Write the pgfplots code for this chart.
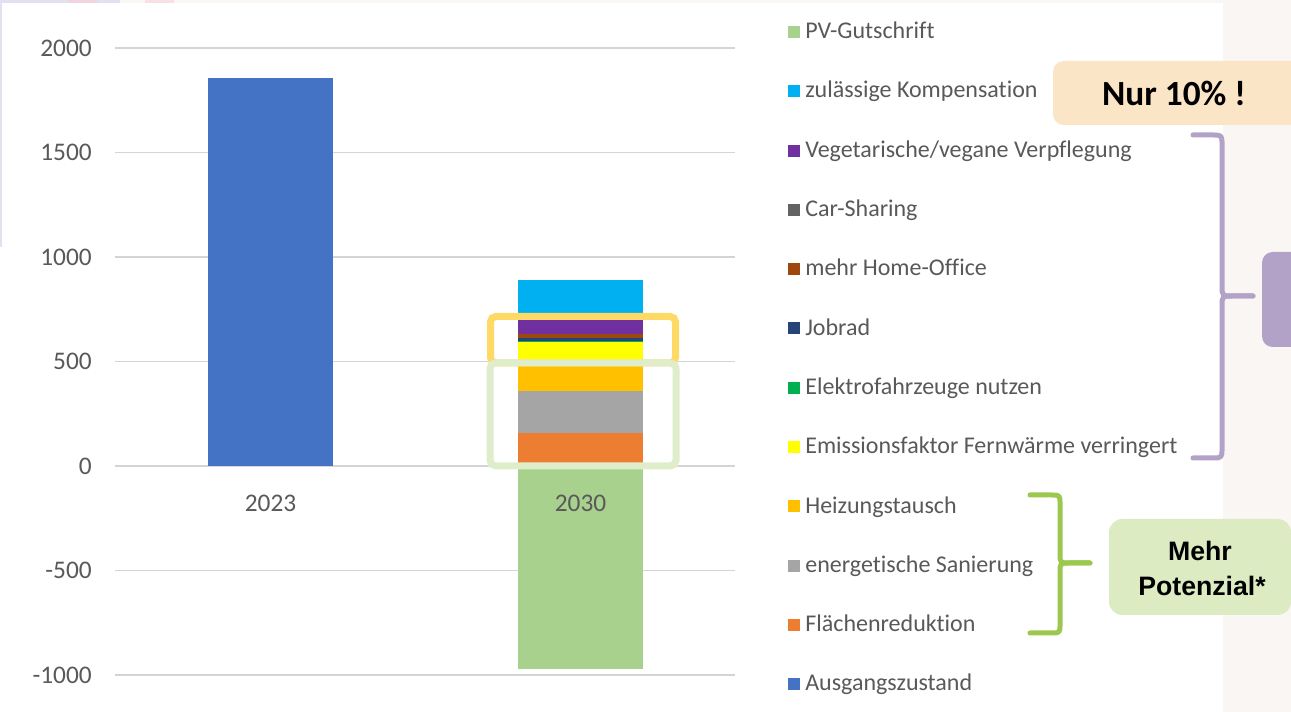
\documentclass[border=0pt]{standalone}
\usepackage{pgfplots}
\pgfplotsset{compat=1.18}
\usepackage{fontspec}
\setmainfont{Carlito}[Ligatures=NoCommon]
\newfontfamily\arialfont{Liberation Sans}
\definecolor{ausgang}{HTML}{4472C4}
\definecolor{flaeche}{HTML}{ED7D31}
\definecolor{sanierung}{HTML}{A5A5A5}
\definecolor{heizung}{HTML}{FFC000}
\definecolor{emission}{HTML}{FFFF00}
\definecolor{elektro}{HTML}{00B050}
\definecolor{jobrad}{HTML}{264478}
\definecolor{homeoffice}{HTML}{9E480E}
\definecolor{carsharing}{HTML}{636363}
\definecolor{veg}{HTML}{7030A0}
\definecolor{komp}{HTML}{00B0F0}
\definecolor{pv}{HTML}{A9D18E}
\definecolor{tickgray}{HTML}{595959}
\definecolor{gridgray}{HTML}{D4D4D4}
\definecolor{goldbox}{HTML}{FFD966}
\definecolor{greenbox}{HTML}{E0EDCB}
\definecolor{peach}{HTML}{FBE5C7}
\definecolor{lila}{HTML}{B3A2C8}
\definecolor{greenbrace}{HTML}{9CC84F}
\definecolor{lightgreen}{HTML}{DDEBC3}
\definecolor{beige}{HTML}{FAF6F3}
\definecolor{lav}{HTML}{E4E0F2}
\definecolor{pinkstrip}{HTML}{F0D4E0}
\definecolor{pinkstrip2}{HTML}{F8E1E4}
\pgfplotsset{
  sqlegend/.style={legend image code/.code={\fill[##1] (0pt,-4.5pt) rectangle (9pt,4.5pt);}}
}
\begin{document}
\begin{tikzpicture}
\path[use as bounding box] (0,0) rectangle (968.25pt,534pt);
\clip (0,0) rectangle (968.25pt,534pt);
\begin{scope}[x=0.75pt,y=-0.75pt,shift={(0pt,534pt)}]
  \fill[white] (0,0) rectangle (1291,712);
  \fill[beige] (1223,0) rectangle (1291,712);
  \fill[beige] (0,0) rectangle (1291,3);
  \fill[lav] (0,0) rectangle (68,3);
  \fill[pinkstrip] (68,0) rectangle (97,3);
  \fill[lav] (97,0) rectangle (120,3);
  \fill[pinkstrip2] (145,0) rectangle (174,3);
  \fill[lav] (0,0) rectangle (2,247);
\end{scope}
\begin{axis}[
  at={(86.25pt,27.75pt)}, anchor=south west,
  scale only axis, width=465pt, height=470.25pt,
  xmin=-0.5, xmax=1.5, ymin=-1000, ymax=2000,
  ybar stacked, bar width=93.75pt,
  xtick=\empty,
  ytick={-1000,-500,0,500,1000,1500,2000},
  yticklabels={-1000,-500,0,500,1000,1500,2000},
  ymajorgrids, grid style={gridgray, line width=1pt},
  axis line style={draw=none},
  major tick length=0pt,
  yticklabel style={font=\fontsize{19}{22}\selectfont, text=tickgray, inner sep=0pt, xshift=-17.25pt},
  legend cell align=left,
  legend style={at={(1,1)}, anchor=north west, xshift=39.75pt, yshift=21pt,
    draw=none, fill=none, inner sep=0pt, outer sep=0pt,
    row sep=26.475pt, column sep=4pt,
    font=\fontsize{18}{21}\selectfont, text=tickgray,
    nodes={inner sep=0pt, text height=14pt, text depth=4pt}},
]
\addplot[fill=ausgang, draw=none, forget plot] coordinates {(0,1855) (1,0)};
\addplot[fill=pv, draw=none, forget plot] coordinates {(0,0) (1,-970)};
\addplot[fill=flaeche, draw=none, forget plot] coordinates {(0,0) (1,160)};
\addplot[fill=sanierung, draw=none, forget plot] coordinates {(0,0) (1,199)};
\addplot[fill=heizung, draw=none, forget plot] coordinates {(0,0) (1,150)};
\addplot[fill=emission, draw=none, forget plot] coordinates {(0,0) (1,83)};
\addplot[fill=elektro, draw=none, forget plot] coordinates {(0,0) (1,6)};
\addplot[fill=jobrad, draw=none, forget plot] coordinates {(0,0) (1,14)};
\addplot[fill=homeoffice, draw=none, forget plot] coordinates {(0,0) (1,19)};
\addplot[fill=carsharing, draw=none, forget plot] coordinates {(0,0) (1,1)};
\addplot[fill=veg, draw=none, forget plot] coordinates {(0,0) (1,72)};
\addplot[fill=komp, draw=none, forget plot] coordinates {(0,0) (1,186)};
\addlegendimage{sqlegend, fill=pv, draw=none}\addlegendentry{PV-Gutschrift}
\addlegendimage{sqlegend, fill=komp, draw=none}\addlegendentry{zulässige Kompensation}
\addlegendimage{sqlegend, fill=veg, draw=none}\addlegendentry{Vegetarische/vegane Verpflegung}
\addlegendimage{sqlegend, fill=carsharing, draw=none}\addlegendentry{Car-Sharing}
\addlegendimage{sqlegend, fill=homeoffice, draw=none}\addlegendentry{mehr Home-Office}
\addlegendimage{sqlegend, fill=jobrad, draw=none}\addlegendentry{Jobrad}
\addlegendimage{sqlegend, fill=elektro, draw=none}\addlegendentry{Elektrofahrzeuge nutzen}
\addlegendimage{sqlegend, fill=emission, draw=none}\addlegendentry{Emissionsfaktor Fernwärme verringert}
\addlegendimage{sqlegend, fill=heizung, draw=none}\addlegendentry{Heizungstausch}
\addlegendimage{sqlegend, fill=sanierung, draw=none}\addlegendentry{energetische Sanierung}
\addlegendimage{sqlegend, fill=flaeche, draw=none}\addlegendentry{Flächenreduktion}
\addlegendimage{sqlegend, fill=ausgang, draw=none}\addlegendentry{Ausgangszustand}
\end{axis}
\begin{scope}[x=0.75pt,y=-0.75pt,shift={(0pt,534pt)}]
  % category labels (drawn over the bars)
  \node[font=\fontsize{19}{22}\selectfont, text=tickgray, anchor=base] at (270.5,512) {2023};
  \node[font=\fontsize{19}{22}\selectfont, text=tickgray, anchor=base] at (580.5,512) {2030};
  % highlight boxes around the 2030 bar
  \draw[goldbox, line width=5.25pt, rounded corners=4pt] (490.5,316.5) rectangle (675.5,363);
  \draw[greenbox, line width=5.25pt, rounded corners=4pt] (490,363) rectangle (676,465.8);
  % Nur 10% box
  \fill[peach, rounded corners=8pt] (1053,61) rectangle (1330,125);
  \node[font=\fontsize{26.5}{30}\bfseries] at (1174,93) {Nur 10\% !};
  % purple brace
  \draw[lila, line width=3.75pt, line cap=round, line join=round]
    (1193,135) -- (1212,135) .. controls (1222,135) .. (1222,145) -- (1222,286)
    .. controls (1222,296) .. (1234,296) -- (1253,296);
  \draw[lila, line width=3.75pt, line cap=round, line join=round]
    (1253,296) -- (1234,296) .. controls (1222,296) .. (1222,306) -- (1222,448)
    .. controls (1222,458) .. (1212,458) -- (1193,458);
  \fill[lila, rounded corners=8pt] (1262,252) rectangle (1330,347);
  % green brace
  \draw[greenbrace, line width=3.75pt, line cap=round, line join=round]
    (1030,495) -- (1051,495) .. controls (1060,495) .. (1060,504) -- (1060,554)
    .. controls (1060,563) .. (1070,563) -- (1090,563);
  \draw[greenbrace, line width=3.75pt, line cap=round, line join=round]
    (1090,563) -- (1070,563) .. controls (1060,563) .. (1060,572) -- (1060,624)
    .. controls (1060,633) .. (1051,633) -- (1030,633);
  \fill[lightgreen, rounded corners=10pt] (1109,519) rectangle (1291,615);
  \node[font=\arialfont\fontsize{20}{24}\bfseries] at (1200,551) {Mehr};
  \node[font=\arialfont\fontsize{20}{24}\bfseries] at (1202,586) {Potenzial*};
\end{scope}
\end{tikzpicture}
\end{document}
